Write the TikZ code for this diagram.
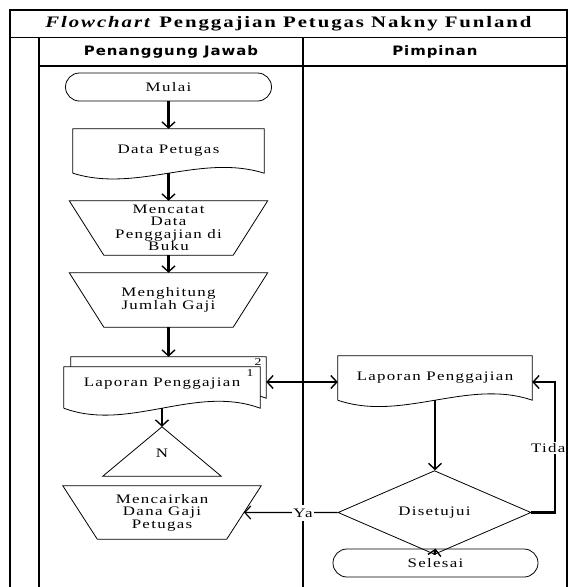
\documentclass[tikz,border=0pt]{standalone}
\usepackage{fontspec}
\setmainfont{Liberation Serif}[FakeStretch=1.3, LetterSpace=10]
\newfontfamily\hdrfont{DejaVu Sans}[FakeStretch=1.15, LetterSpace=7]
\newfontfamily\titlefont{Liberation Serif}[FakeStretch=1.3, LetterSpace=12]
\usetikzlibrary{shapes.geometric,shapes.misc,arrows.meta,calc}

\tikzset{
  frame/.style={line width=1.2pt},
  shp/.style={line width=0.8pt, fill=white},
  box/.style={inner sep=0pt, align=center, font=\fontsize{13}{12.5}\selectfont},
  term/.style={box, rounded rectangle, draw, line width=0.8pt},
  flow/.style={line width=2.3pt, -{Straight Barb[length=6pt,width=13pt,line width=1.4pt]}},
  link/.style={line width=1.2pt, -{Straight Barb[length=6pt,width=13pt]}},
  both/.style={line width=1.4pt, {Straight Barb[length=6pt,width=13pt]}-{Straight Barb[length=6pt,width=13pt]}},
  lbl/.style={inner sep=1pt, font=\fontsize{13}{13}\selectfont},
  hdr/.style={font=\hdrfont\bfseries\fontsize{13}{13}\selectfont}
}

\begin{document}
\begin{tikzpicture}[x=1pt,y=-1pt]
\useasboundingbox (0,0) rectangle (570,587);

% ---- lane headers ----
\node[font=\titlefont\bfseries\fontsize{16}{16}\selectfont] (title) at (288.5,24) {\textit{Flowchart} Penggajian Petugas Nakny Funland};
\node[hdr] (h1) at (171,51.5) {Penanggung Jawab};
\node[hdr] (h2) at (435,51.5) {Pimpinan};

% ---- Penanggung Jawab lane ----
\node[term, minimum width=206, minimum height=28] (mulai) at (168.5,87) {Mulai};

\node[box, minimum width=191, minimum height=44] (dp) at (168.5,151) {};
\draw[shp] (dp.south west) -- (dp.north west) -- (dp.north east) -- (dp.south east)
  .. controls ($(dp.south east)+(-64,-20)$) and ($(dp.south west)+(64,20)$) .. (dp.south west);
\node[box] at (dp) {Data Petugas};

\node[box, minimum width=198, minimum height=54] (catat) at (168.5,228) {};
\draw[shp] (catat.north west) -- (catat.north east) -- ([xshift=-34.5]catat.south east)
  -- ([xshift=34.5]catat.south west) -- cycle;
\node[box] at (catat) {Mencatat\\Data\\Penggajian di\\Buku};

\node[box, minimum width=198, minimum height=54] (hitung) at (168.5,300) {};
\draw[shp] (hitung.north west) -- (hitung.north east) -- ([xshift=-34.5]hitung.south east)
  -- ([xshift=34.5]hitung.south west) -- cycle;
\node[box] at (hitung) {Menghitung\\Jumlah Gaji};

% two-copy report
\node[box, minimum width=195, minimum height=41] (lap2) at (168.5,377.5) {};
\draw[shp] (lap2.south west) -- (lap2.north west) -- (lap2.north east) -- (lap2.south east)
  .. controls ($(lap2.south east)+(-65,-24)$) and ($(lap2.south west)+(65,24)$) .. (lap2.south west);
\node[box, minimum width=196, minimum height=41] (lap1) at (162,387.5) {};
\draw[shp] (lap1.south west) -- (lap1.north west) -- (lap1.north east) -- (lap1.south east)
  .. controls ($(lap1.south east)+(-65,-24)$) and ($(lap1.south west)+(65,24)$) .. (lap1.south west);
\node[box] at ([yshift=4]lap1.center) {Laporan Penggajian};
\node[lbl, font=\fontsize{10.5}{10.5}\selectfont] (n1) at (250,373) {1};
\node[lbl, font=\fontsize{10.5}{10.5}\selectfont] (n2) at (258,362.5) {2};

\node[box, minimum width=118, minimum height=49] (tri) at (162,451.5) {};
\draw[shp] (tri.north) -- (tri.south east) -- (tri.south west) -- cycle;
\node[box] at ([yshift=-2]tri.center) {N};

\node[box, minimum width=198, minimum height=53] (cair) at (162,512.5) {};
\draw[shp] (cair.north west) -- (cair.north east) -- ([xshift=-34.5]cair.south east)
  -- ([xshift=34.5]cair.south west) -- cycle;
\node[box] at (cair) {Mencairkan\\Dana Gaji\\Petugas};
\coordinate (cairR) at ($(cair.north east)!0.5!([xshift=-34.5]cair.south east)$);

% ---- Pimpinan lane ----
\node[box, minimum width=194, minimum height=44] (lapR) at (435,378) {};
\draw[shp] (lapR.south west) -- (lapR.north west) -- (lapR.north east) -- (lapR.south east)
  .. controls ($(lapR.south east)+(-64,-22)$) and ($(lapR.south west)+(64,22)$) .. (lapR.south west);
\node[box] at (lapR) {Laporan Penggajian};
\coordinate (lapRin) at ([yshift=-4]lapR.west);

\node[box, diamond, draw, line width=0.8pt, minimum width=193, minimum height=41] (dis) at (434.5,512.5) {Disetujui};
\node[term, minimum width=205, minimum height=28] (sel) at (435.5,563) {Selesai};

% ---- connectors ----
\draw[flow] (mulai.south) -- (dp.north);
\draw[flow] (dp.south) -- (catat.north);
\draw[flow] (catat.south) -- (hitung.north);
\draw[flow] (hitung.south) -- (lap2.north);
\draw[flow] (lap1.south) -- (tri.north);
\draw[both] (lap2.east |- lapRin) -- (lapRin);
\draw[flow] (lapR.south) -- (lapR.south |- dis.north);
\draw[flow] (dis.south) -- (sel.north);
\draw[link] (dis.west) -- (cairR);
\coordinate (tk) at (555,382);
\draw[flow] (dis.east) -| (tk) -- (lapR.east |- tk);
\node[lbl, fill=white] (ya) at (303,513) {Ya};
\node[lbl, fill=white, anchor=east] (tidak) at (566.5,448) {Tida};

% ---- frame ----
\draw[frame] (10,587) |- (567,10) -- (567,587);
\draw[frame] (10,37.5) -- (567,37.5);
\draw[frame] (39,37.5) -- (39,587);
\draw[frame] (39,66) -- (567,66);
\draw[frame] (303,37.5) -- (303,505);
\draw[frame] (303,521) -- (303,587);
\end{tikzpicture}
\end{document}
